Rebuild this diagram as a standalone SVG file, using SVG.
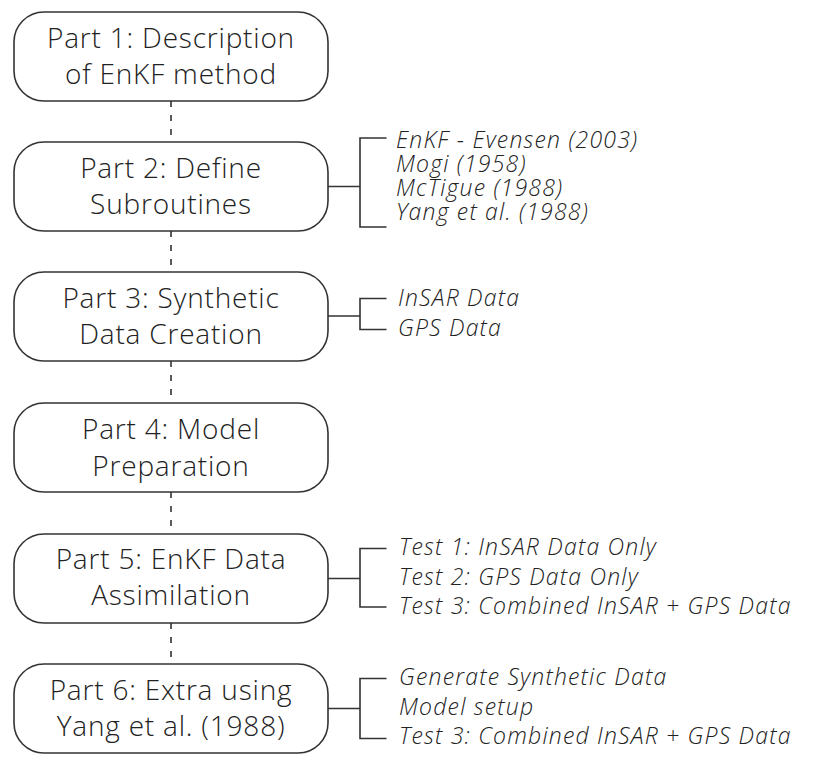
<svg xmlns="http://www.w3.org/2000/svg" width="819" height="768" viewBox="0 0 819 768">
<style>
.box{fill:#fff;stroke:#333;stroke-width:1.6}
.t{font-family:"Open Sans",Lato,sans-serif;font-weight:300;font-size:28px;letter-spacing:0.8px;fill:#222;text-anchor:middle}
.s{font-family:"Open Sans",Lato,sans-serif;font-weight:300;font-style:italic;font-size:23px;letter-spacing:1.2px;fill:#222}
.c{fill:none;stroke:#333;stroke-width:1.6}
.d{fill:none;stroke:#333;stroke-width:1.6;stroke-dasharray:6 8}
</style>
<rect width="819" height="768" fill="#fff"/>
<g id="connectors">
<path class="d" d="M171 101V142M171 231V272M171 361V403M171 492V534M171 623V664"/>
<path class="c" d="M328 186.5H360M386.5 138H360V227H386.5"/>
<path class="c" d="M328 316H360M386.5 298.5H360V329.5H386.5"/>
<path class="c" d="M328 578.5H360M386.5 548.5H360V607H386.5"/>
<path class="c" d="M328 708.5H360M386.5 678.5H360V738.5H386.5"/>
</g>
<g id="n1"><rect class="box" x="14" y="12" width="314" height="89" rx="30"/><text class="t" x="171" y="48">Part 1: Description</text><text class="t" x="171" y="84">of EnKF method</text></g>
<g id="n2"><rect class="box" x="14" y="142" width="314" height="89" rx="30"/><text class="t" x="171" y="178">Part 2: Define</text><text class="t" x="171" y="214">Subroutines</text></g>
<g id="n3"><rect class="box" x="14" y="272" width="314" height="89" rx="30"/><text class="t" x="171" y="308">Part 3: Synthetic</text><text class="t" x="171" y="344">Data Creation</text></g>
<g id="n4"><rect class="box" x="14" y="403" width="314" height="89" rx="30"/><text class="t" x="171" y="439">Part 4: Model</text><text class="t" x="171" y="476">Preparation</text></g>
<g id="n5"><rect class="box" x="14" y="534" width="314" height="89" rx="30"/><text class="t" x="171" y="569">Part 5: EnKF Data</text><text class="t" x="171" y="605">Assimilation</text></g>
<g id="n6"><rect class="box" x="14" y="664" width="314" height="89" rx="30"/><text class="t" x="171" y="700">Part 6: Extra using</text><text class="t" x="171" y="736">Yang et al. (1988)</text></g>
<g id="l2"><text class="s" x="396" y="148">EnKF - Evensen (2003)</text><text class="s" x="396" y="172">Mogi (1958)</text><text class="s" x="396" y="196">McTigue (1988)</text><text class="s" x="396" y="220">Yang et al. (1988)</text></g>
<g id="l3"><text class="s" x="398" y="306">InSAR Data</text><text class="s" x="398" y="335.5">GPS Data</text></g>
<g id="l5"><text class="s" x="399" y="555">Test 1: InSAR Data Only</text><text class="s" x="399" y="584.5">Test 2: GPS Data Only</text><text class="s" x="399" y="614">Test 3: Combined InSAR + GPS Data</text></g>
<g id="l6"><text class="s" x="399" y="685">Generate Synthetic Data</text><text class="s" x="399" y="714.5">Model setup</text><text class="s" x="399" y="744">Test 3: Combined InSAR + GPS Data</text></g>
</svg>
